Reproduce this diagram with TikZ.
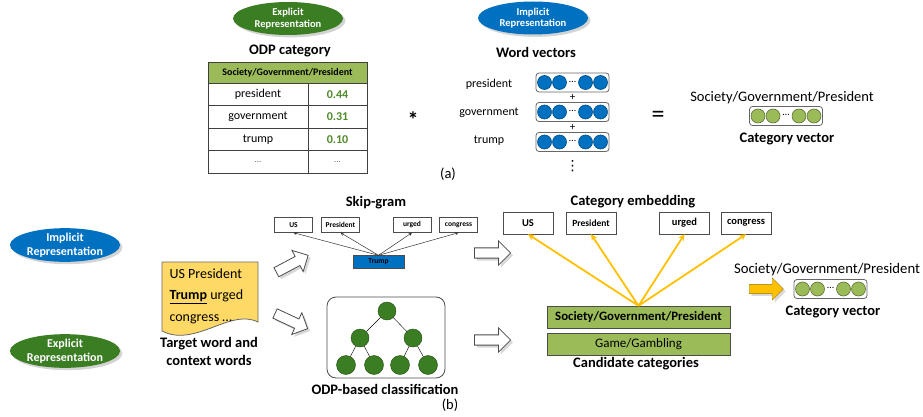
\documentclass[tikz,border=0pt]{standalone}
\usepackage{fontspec}
\setmainfont{Carlito}
\newfontfamily\symfont{DejaVu Sans}
\usetikzlibrary{positioning}
\usetikzlibrary{shapes.geometric,shapes.arrows,calc,shadows}
\definecolor{repgreen}{HTML}{3A7D22}
\definecolor{repblue}{HTML}{0070C0}
\definecolor{catgreen}{HTML}{9BBB59}
\definecolor{valgreen}{HTML}{4E8A2A}
\definecolor{docyellow}{HTML}{FFD966}
\definecolor{arrowyellow}{HTML}{FFC000}
\newcommand*{\fs}[2]{\fontsize{#1}{#2}\selectfont}
% vector box: name, centre, fill colour, border colour
\newcommand*{\DrawVector}[4]{%
  \node[vecbox] (#1) at (#2) {};
  \foreach \dx in {-28,-13,13,28}
    \draw[fill=#3, draw=#4, line width=0.6pt] ($(#1.center)+(\dx,0)$) circle (7);
  \node[font=\fs{10}{11}, inner sep=0pt] (#1dots) at ($(#1.center)+(0,-1)$) {…};
}

\begin{document}
\begin{tikzpicture}[x=1pt,y=-1pt,
    rep/.style={ellipse, fill=#1, text=white,
        font=\fs{10.5}{11.5}\bfseries, align=center,
        minimum width=110pt, minimum height=33pt, inner sep=0pt,
        drop shadow={opacity=0.35}},
    title/.style={font=\fs{14.5}{16}\bfseries, inner sep=1pt},
    cell/.style={draw=black!75, minimum height=22.5pt, inner sep=0pt,
        font=\fs{12}{14}},
    vecbox/.style={draw=black!60, rounded corners=3pt, line width=0.8pt,
        minimum width=73pt, minimum height=19pt},
    wordbox/.style={draw=black!70, minimum width=38pt, minimum height=15pt,
        inner sep=1pt, font=\fs{7.5}{8}\bfseries},
    embbox/.style={draw=black!70, minimum width=50pt, minimum height=22pt,
        inner sep=1pt, font=\fs{10.5}{12}\bfseries},
    catbox/.style={draw=black!70, fill=catgreen, minimum width=183pt,
        minimum height=22pt, inner sep=0pt},
    hollow/.style={single arrow, draw=black!70, fill=white, line width=0.8pt,
        minimum height=36pt, minimum width=24pt, single arrow head extend=5pt,
        drop shadow={opacity=0.3}},
    treenode/.style={circle, fill=repgreen, draw=repgreen!60!black,
        minimum size=18pt, inner sep=0pt},
    yellowline/.style={draw=arrowyellow, line width=1.8pt, -stealth}
    ]
\useasboundingbox (0,0) rectangle (923,417);

% (a) explicit part
\node[rep=repgreen] (expltop) at (288,18.5) {Explicit\\Representation};
\node[title] (odptitle) at (290,51) {ODP category};

% ODP category table
\node[draw=black!75, fill=catgreen, minimum width=159pt, minimum height=21pt,
    inner sep=0pt, font=\fs{10}{12}\bfseries
] (tabhead) at (287.5,72.5) {Society/Government/President};
\node[cell, minimum width=100pt] (wpresident) at (258,94.25) {president};
\node[cell, minimum width=59pt, text=valgreen, font=\fs{12}{14}\bfseries] (vpresident) at (337.5,94.25) {0.44};
\node[cell, minimum width=100pt] (wgovernment) at (258,116.75) {government};
\node[cell, minimum width=59pt, text=valgreen, font=\fs{12}{14}\bfseries] (vgovernment) at (337.5,116.75) {0.31};
\node[cell, minimum width=100pt] (wtrump) at (258,139.25) {trump};
\node[cell, minimum width=59pt, text=valgreen, font=\fs{12}{14}\bfseries] (vtrump) at (337.5,139.25) {0.10};
\node[cell, minimum width=100pt, text=black!60, font=\fs{9}{10}] (wmore) at (258,161.75) {...};
\node[cell, minimum width=59pt, text=black!60, font=\fs{9}{10}] (vmore) at (337.5,161.75) {...};

\node[font=\fs{22}{24}\bfseries] (times) at (413,120) {*};

% (a) implicit part
\node[rep=repblue] (impltop) at (533,18) {Implicit\\Representation};
\node[title] (wvtitle) at (536,52) {Word vectors};

\node[font=\fs{12}{13}] (lpresident) at (489,84) {president};
\node[font=\fs{12}{13}] (lgovernment) at (489,113) {government};
\node[font=\fs{12}{13}] (ltrump) at (489,141) {trump};

\DrawVector{vecpresident}{572.5,82.5}{repblue}{repblue!70!black}
\DrawVector{vecgovernment}{572.5,112}{repblue}{repblue!70!black}
\DrawVector{vectrump}{572.5,142}{repblue}{repblue!70!black}
\node[font=\fs{11}{12}, inner sep=0pt] (plusA) at (572.5,97.5) {+};
\node[font=\fs{11}{12}, inner sep=0pt] (plusB) at (572.5,127) {+};
\node[font=\symfont\fs{14}{15}, inner sep=0pt] (vdotsA) at (572.5,166) {⋮};

\node[font=\fs{26}{28}] (equals) at (658,117) {=};

\node[font=\fs{14.5}{16}] (toplabel) at (782,98) {Society/Government/President};
\DrawVector{vectop}{786,116}{catgreen}{catgreen!60!black}
\node[title] (topvectitle) at (787,139) {Category vector};

\node[font=\fs{14.5}{16}] (labela) at (448,174) {(a)};

% (b) representations
\node[rep=repblue, font=\fs{12}{13.5}\bfseries] (implbot) at (65,245) {Implicit\\Representation};
\node[rep=repgreen, font=\fs{12}{13.5}\bfseries] (explbot) at (65,351) {Explicit\\Representation};

% target document
\draw[fill=docyellow, draw=black!60, line width=0.8pt]
    (162,262) -- (258,262) -- (258,322)
    .. controls (230,308) and (195,348) .. (162,331) -- cycle;
\node[anchor=west, align=left, font=\fs{14}{21.5}] (doctext) at (166,296)
    {US President\\\underline{\textbf{Trump}} urged\\congress …};
\node[title, align=center, font=\fs{14.5}{18}\bfseries] (doctitle) at (209,351)
    {Target word and\\context words};

\node[hollow, rotate=28] (arrowup) at (290,265) {};
\node[hollow, rotate=-25] (arrowdown) at (289,320) {};

% Skip-gram
\node[title] (sgtitle) at (376,203) {Skip-gram};
\node[wordbox] (sgUS) at (293.5,225) {US};
\node[wordbox] (sgPresident) at (340.5,225) {President};
\node[wordbox] (sgUrged) at (412,225) {urged};
\node[wordbox] (sgCongress) at (458.5,225) {congress};
\node[wordbox, fill=repblue, minimum width=51pt, minimum height=13pt] (sgTrump) at (378.5,262) {Trump};
\draw[-stealth, black!80, line width=0.5pt] (sgTrump.north) -- (sgUS.south);
\draw[-stealth, black!80, line width=0.5pt] (sgTrump.north) -- (sgPresident.south);
\draw[-stealth, black!80, line width=0.5pt] (sgTrump.north) -- (sgUrged.south);
\draw[-stealth, black!80, line width=0.5pt] (sgTrump.north) -- (sgCongress.south);

% ODP-based classification
\node[draw=black!70, rounded corners=9pt, line width=0.8pt,
    minimum width=118pt, minimum height=81pt
] (odpbox) at (386,337.5) {};
\node[treenode] (troot) at (387,311) {};
\node[treenode] (tleft) at (360,338) {};
\node[treenode] (tright) at (413,338) {};
\node[treenode, minimum size=19pt] (tleafA) at (346,365) {};
\node[treenode, minimum size=19pt] (tleafB) at (374,365) {};
\node[treenode, minimum size=19pt] (tleafC) at (400,365) {};
\node[treenode, minimum size=19pt] (tleafD) at (428,365) {};
\draw (troot) -- (tleft);
\draw (troot) -- (tright);
\draw (tleft) -- (tleafA);
\draw (tleft) -- (tleafB);
\draw (tright) -- (tleafC);
\draw (tright) -- (tleafD);
\node[title] (odptitleb) at (385,389) {ODP-based classification};

\node[font=\fs{14.5}{16}] (labelb) at (450,405) {(b)};

\node[hollow] (arrowce) at (490,253) {};
\node[hollow] (arrowcat) at (490,340) {};

% Category embedding
\node[title] (cetitle) at (633,202) {Category embedding};
\node[embbox] (ceUS) at (528,223) {US};
\node[embbox, font=\fs{9.5}{11}\bfseries] (cePresident) at (591,223) {President};
\node[embbox] (ceUrged) at (684.5,223) {urged};
\node[embbox] (ceCongress) at (746,223) {congress};

\node[catbox, font=\fs{12.8}{14}\bfseries] (catSGP) at (638.5,317) {Society/Government/President};
\node[catbox, font=\fs{13}{14}] (catGame) at (638.5,344.5) {Game/Gambling};
\node[title] (cattitle) at (636,364) {Candidate categories};

\draw[yellowline] (catSGP.north) -- (ceUS.south);
\draw[yellowline] (catSGP.north) -- (cePresident.south);
\draw[yellowline] (catSGP.north) -- (ceUrged.south);
\draw[yellowline] (catSGP.north) -- (ceCongress.south);

% resulting category vector
\node[single arrow, fill=arrowyellow, draw=arrowyellow!60!black,
    minimum height=34pt, minimum width=22pt, single arrow head extend=5pt,
    drop shadow={opacity=0.3}
] (arrowout) at (764,289) {};
\node[font=\fs{14.7}{16}] (botlabel) at (827,270) {Society/Government/President};
\DrawVector{vecbot}{830.5,289}{catgreen}{catgreen!60!black}
\node[title] (botvectitle) at (833,312) {Category vector};

\end{tikzpicture}
\end{document}
